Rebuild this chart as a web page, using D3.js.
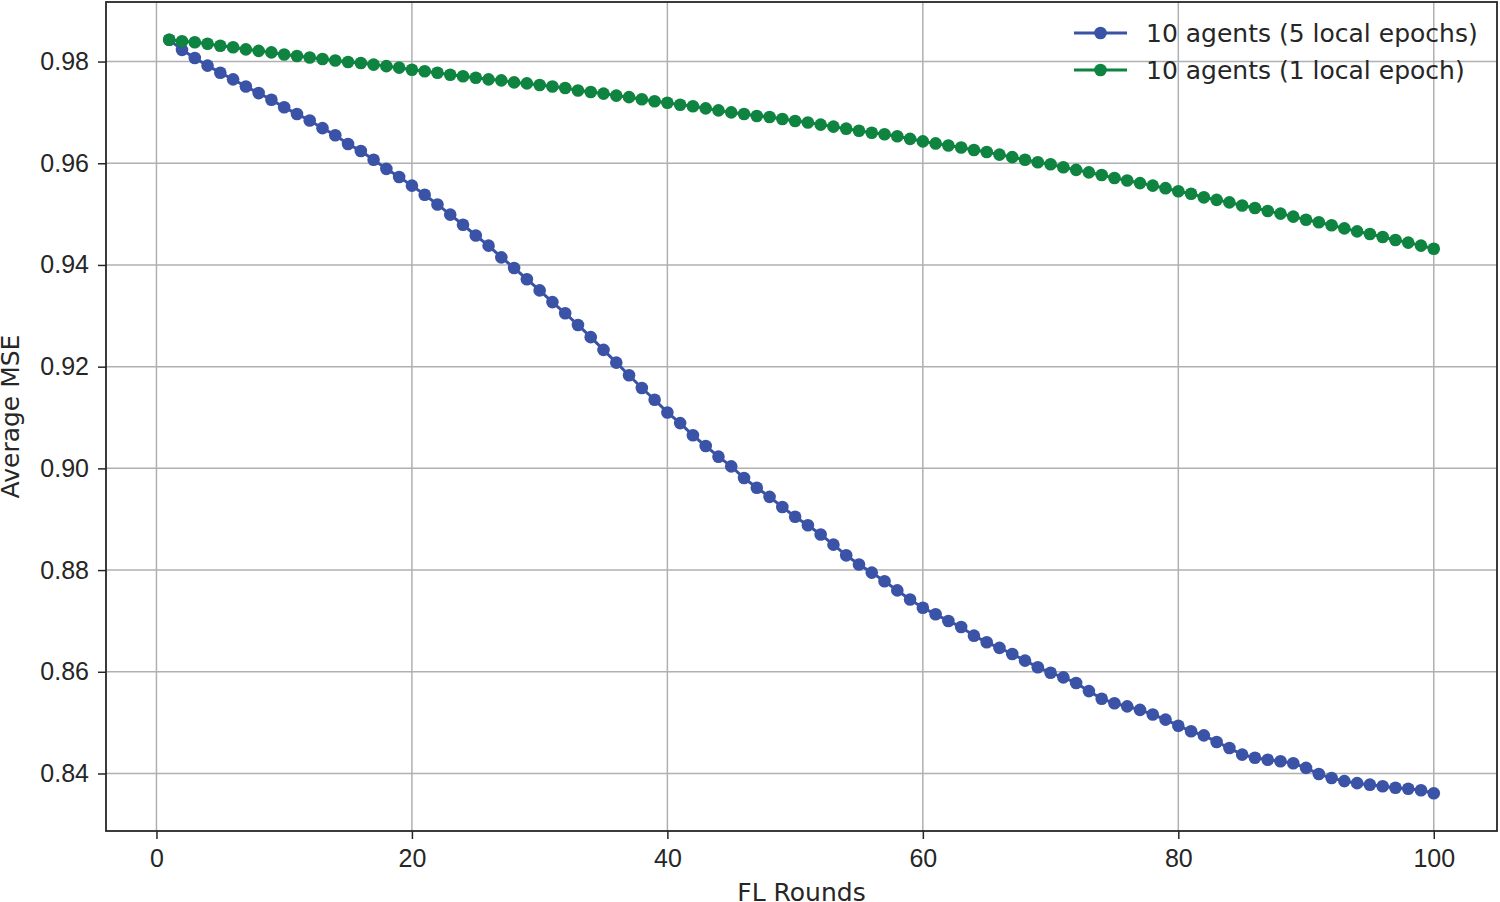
<!DOCTYPE html>
<html lang="en">
<head>
    <meta charset="UTF-8">
    <title>Average MSE vs FL Rounds</title>
    <script src="https://d3js.org/d3.v7.min.js"></script>
    <style>
        body { margin: 0; background: #fff; }
        svg { display: block; font-family: "DejaVu Sans", sans-serif; }
        .grid line { stroke: #b0b0b0; stroke-width: 1.5; }
        .tick text { font-size: 25px; fill: #262626; }
        .tick line { stroke: #262626; stroke-width: 1.5; }
        .axis-label { font-size: 25px; fill: #262626; }
        .legend text { font-size: 25px; fill: #262626; }
    </style>
</head>
<body>
<div id="chart"></div>
<script>
    // FL rounds 1..100
    const rounds = d3.range(1, 101);

    // 10 agents, 5 local epochs
    const fiveEpochs = [
        0.9843, 0.9823, 0.9807, 0.9792, 0.9778, 0.9765, 0.9751, 0.9738, 0.9725, 0.9710,
        0.9697, 0.9684, 0.9669, 0.9655, 0.9638, 0.9624, 0.9607, 0.9589, 0.9573, 0.9556,
        0.9538, 0.9519, 0.9499, 0.9479, 0.9458, 0.9438, 0.9415, 0.9394, 0.9372, 0.9350,
        0.9327, 0.9305, 0.9282, 0.9258, 0.9233, 0.9208, 0.9183, 0.9158, 0.9135, 0.9110,
        0.9089, 0.9065, 0.9044, 0.9023, 0.9004, 0.8981, 0.8962, 0.8944, 0.8924, 0.8905,
        0.8888, 0.8870, 0.8850, 0.8829, 0.8811, 0.8795, 0.8778, 0.8760, 0.8742, 0.8726,
        0.8713, 0.8700, 0.8688, 0.8671, 0.8658, 0.8647, 0.8635, 0.8622, 0.8609, 0.8598,
        0.8589, 0.8578, 0.8562, 0.8547, 0.8538, 0.8532, 0.8525, 0.8516, 0.8506, 0.8494,
        0.8483, 0.8475, 0.8462, 0.8450, 0.8437, 0.8431, 0.8427, 0.8424, 0.8420, 0.8411,
        0.8399, 0.8391, 0.8385, 0.8381, 0.8378, 0.8375, 0.8372, 0.8370, 0.8367, 0.8361
    ];

    // 10 agents, 1 local epoch
    const oneEpoch = [
        0.9843, 0.9840, 0.9838, 0.9835, 0.9831, 0.9828, 0.9824, 0.9821, 0.9818, 0.9814,
        0.9811, 0.9808, 0.9805, 0.9802, 0.9799, 0.9797, 0.9794, 0.9791, 0.9788, 0.9784,
        0.9781, 0.9778, 0.9774, 0.9771, 0.9768, 0.9765, 0.9763, 0.9759, 0.9757, 0.9754,
        0.9751, 0.9748, 0.9743, 0.9740, 0.9737, 0.9733, 0.9730, 0.9726, 0.9722, 0.9719,
        0.9715, 0.9712, 0.9708, 0.9704, 0.9700, 0.9697, 0.9693, 0.9691, 0.9687, 0.9683,
        0.9680, 0.9676, 0.9672, 0.9668, 0.9664, 0.9660, 0.9657, 0.9653, 0.9648, 0.9643,
        0.9639, 0.9635, 0.9631, 0.9626, 0.9622, 0.9617, 0.9612, 0.9607, 0.9602, 0.9598,
        0.9592, 0.9587, 0.9582, 0.9577, 0.9571, 0.9566, 0.9561, 0.9556, 0.9551, 0.9545,
        0.9540, 0.9533, 0.9528, 0.9523, 0.9517, 0.9512, 0.9506, 0.9501, 0.9495, 0.9489,
        0.9484, 0.9478, 0.9472, 0.9466, 0.9461, 0.9455, 0.9449, 0.9444, 0.9438, 0.9432
    ];

    const seriesNames = ["10 agents (5 local epochs)", "10 agents (1 local epoch)"];
    const seriesColors = ["#3a53a6", "#0f8440"];
    const xTicks = [0, 20, 40, 60, 80, 100];
    const yTicks = [0.84, 0.86, 0.88, 0.90, 0.92, 0.94, 0.96, 0.98];

    const series = [fiveEpochs, oneEpoch].map((vals, i) => ({
        name: seriesNames[i],
        color: seriesColors[i],
        points: rounds.map((r, j) => ({ x: r, y: vals[j] }))
    }));

    const width = 1500, height = 902;
    const margin = { top: 2, right: 3, bottom: 71, left: 106 };
    const innerW = width - margin.left - margin.right;
    const innerH = height - margin.top - margin.bottom;

    // matplotlib-style 5% padding
    const xPad = (d3.max(rounds) - d3.min(rounds)) * 0.05;
    const allY = fiveEpochs.concat(oneEpoch);
    const yPad = (d3.max(allY) - d3.min(allY)) * 0.05;

    const x = d3.scaleLinear()
        .domain([d3.min(rounds) - xPad, d3.max(rounds) + xPad])
        .range([0, innerW]);
    const y = d3.scaleLinear()
        .domain([d3.min(allY) - yPad, d3.max(allY) + yPad])
        .range([innerH, 0]);

    const svg = d3.select("#chart").append("svg")
        .attr("width", width)
        .attr("height", height);

    const g = svg.append("g").attr("transform", `translate(${margin.left},${margin.top})`);

    // grid
    g.append("g").attr("class", "grid")
        .selectAll("line").data(xTicks).join("line")
        .attr("x1", d => x(d)).attr("x2", d => x(d))
        .attr("y1", 0).attr("y2", innerH);
    g.append("g").attr("class", "grid")
        .selectAll("line").data(yTicks).join("line")
        .attr("x1", 0).attr("x2", innerW)
        .attr("y1", d => y(d)).attr("y2", d => y(d));

    // axes
    const xAxis = g.append("g")
        .attr("transform", `translate(0,${innerH})`)
        .call(d3.axisBottom(x).tickValues(xTicks).tickFormat(d3.format("d")).tickSize(8).tickPadding(10.5));
    const yAxis = g.append("g")
        .call(d3.axisLeft(y).tickValues(yTicks).tickFormat(d3.format(".2f")).tickSize(8).tickPadding(9));
    xAxis.select(".domain").remove();
    yAxis.select(".domain").remove();

    // lines and markers
    const line = d3.line().x(d => x(d.x)).y(d => y(d.y));
    series.forEach(s => {
        g.append("path")
            .datum(s.points)
            .attr("fill", "none")
            .attr("stroke", s.color)
            .attr("stroke-width", 3)
            .attr("d", line);
        g.append("g").selectAll("circle").data(s.points).join("circle")
            .attr("cx", d => x(d.x))
            .attr("cy", d => y(d.y))
            .attr("r", 6.3)
            .attr("fill", s.color);
    });

    // frame
    g.append("rect")
        .attr("width", innerW).attr("height", innerH)
        .attr("fill", "none")
        .attr("stroke", "#262626")
        .attr("stroke-width", 1.8);

    // axis labels
    svg.append("text").attr("class", "axis-label")
        .attr("x", margin.left + innerW / 2)
        .attr("y", 900.5)
        .attr("text-anchor", "middle")
        .text("FL Rounds");
    svg.append("text").attr("class", "axis-label")
        .attr("transform", `translate(19,${margin.top + innerH / 2}) rotate(-90)`)
        .attr("text-anchor", "middle")
        .text("Average MSE");

    // legend
    const legend = svg.append("g").attr("class", "legend")
        .attr("transform", "translate(1074,33)");
    const items = legend.selectAll("g").data(series).join("g")
        .attr("transform", (d, i) => `translate(0,${i * 37})`);
    items.append("line")
        .attr("x1", 0).attr("x2", 53)
        .attr("stroke", d => d.color)
        .attr("stroke-width", 3);
    items.append("circle")
        .attr("cx", 26.5).attr("r", 6.3)
        .attr("fill", d => d.color);
    items.append("text")
        .attr("x", 72).attr("dy", "0.35em")
        .text(d => d.name);
</script>
</body>
</html>
